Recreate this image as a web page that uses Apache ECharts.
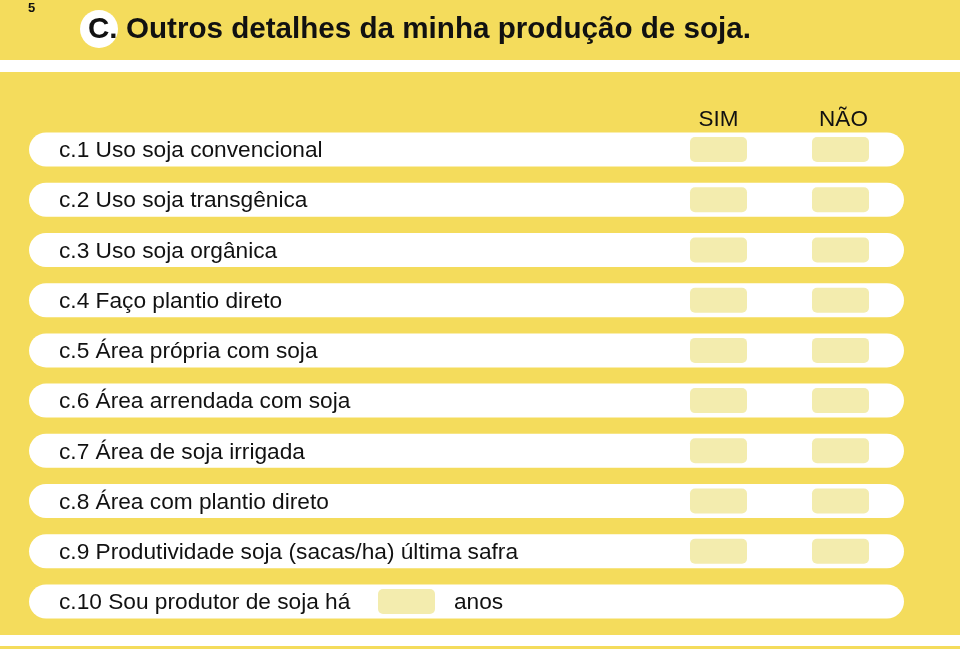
<!DOCTYPE html>
<html>
<head>
<meta charset="utf-8">
<script src="https://cdn.jsdelivr.net/npm/echarts@6/dist/echarts.min.js"></script>
<style>html,body{margin:0;padding:0;background:#F4DC5C;}#c{width:960px;height:649px;}</style>
</head>
<body>
<div id="c"></div>
<script>
// ---- content ----
const pageNumber = '5';
const sectionLetter = 'C.';
const sectionTitle = 'Outros detalhes da minha produção de soja.';
const columns = ['SIM', 'NÃO'];
const questions = [
  'c.1 Uso soja convencional',
  'c.2 Uso soja transgênica',
  'c.3 Uso soja orgânica',
  'c.4 Faço plantio direto',
  'c.5 Área própria com soja',
  'c.6 Área arrendada com soja',
  'c.7 Área de soja irrigada',
  'c.8 Área com plantio direto',
  'c.9 Produtividade soja (sacas/ha) última safra',
  'c.10 Sou produtor de soja há'
];
const lastSuffix = 'anos';

// ---- styles ----
const YELLOW = '#F4DC5C';
const BOX = '#F3ECAE';
const FAMILY = 'Liberation Sans';
const LABEL_SIZE = 22.7;
const HEADER_SIZE = 22.5;
const TITLE_SIZE = 29.6;
const PILL_X0 = 29, PILL_X1 = 904, PILL_H = 34;
const LABEL_X = 59;
const COL_X = [690, 812];
const BOX_W = 57, BOX_H = 25;
const LAST_BOX_X = 378, LAST_SUFFIX_X = 454;

function txt(text, size, weight, align) {
  return {text: text, fill: '#111', fontFamily: FAMILY, fontSize: size, fontWeight: weight || 'normal',
    verticalAlign: 'middle', align: align || 'left'};
}

const chart = echarts.init(document.getElementById('c'), null, {renderer: 'canvas'});

function renderItem(params, api) {
  const idx = api.value(0);
  const p0 = api.coord([PILL_X0, idx]);
  const p1 = api.coord([PILL_X1, idx]);
  const cy = p0[1];
  const children = [
    {type: 'rect', shape: {x: p0[0], y: cy - PILL_H / 2, width: p1[0] - p0[0], height: PILL_H, r: PILL_H / 2},
     style: {fill: '#ffffff'}},
    {type: 'text', x: api.coord([LABEL_X, idx])[0], y: cy + 1.5, style: txt(questions[idx], LABEL_SIZE)}
  ];
  if (idx < questions.length - 1) {
    COL_X.forEach(function (cx) {
      const b = api.coord([cx, idx]);
      children.push({type: 'rect', shape: {x: b[0], y: cy - BOX_H / 2, width: BOX_W, height: BOX_H, r: 5},
        style: {fill: BOX}});
    });
  } else {
    const b = api.coord([LAST_BOX_X, idx]);
    children.push({type: 'rect', shape: {x: b[0], y: cy - BOX_H / 2, width: BOX_W, height: BOX_H, r: 5},
      style: {fill: BOX}});
    children.push({type: 'text', x: api.coord([LAST_SUFFIX_X, idx])[0], y: cy + 1.5, style: txt(lastSuffix, LABEL_SIZE)});
  }
  return {type: 'group', children: children};
}

const headerEls = columns.map(function (t, i) {
  return {type: 'text', x: COL_X[i] + BOX_W / 2 + (i === 1 ? 3 : 0), y: 119.5,
    style: txt(t, HEADER_SIZE, 'normal', 'center')};
});

chart.setOption({
  backgroundColor: YELLOW,
  animation: false,
  grid: {left: 0, right: 0, top: 124.4, bottom: 22.4},
  xAxis: {type: 'value', min: 0, max: 960, show: false},
  yAxis: {type: 'category', data: questions, inverse: true, show: false},
  graphic: [
    {type: 'rect', shape: {x: 0, y: 60, width: 960, height: 12}, style: {fill: '#ffffff'}},
    {type: 'rect', shape: {x: 0, y: 635, width: 960, height: 11}, style: {fill: '#ffffff'}},
    {type: 'text', x: 28, y: 8.5, style: txt(pageNumber, 13, 'bold')},
    {type: 'circle', shape: {cx: 99, cy: 29, r: 19}, style: {fill: '#ffffff'}},
    {type: 'text', x: 88, y: 30, style: txt(sectionLetter, TITLE_SIZE, 'bold')},
    {type: 'text', x: 126, y: 30, style: txt(sectionTitle, TITLE_SIZE, 'bold')}
  ].concat(headerEls),
  series: [{
    type: 'custom',
    renderItem: renderItem,
    data: questions.map(function (q, i) { return [i]; }),
    encode: {y: 0},
    silent: true
  }]
});
</script>
</body>
</html>
